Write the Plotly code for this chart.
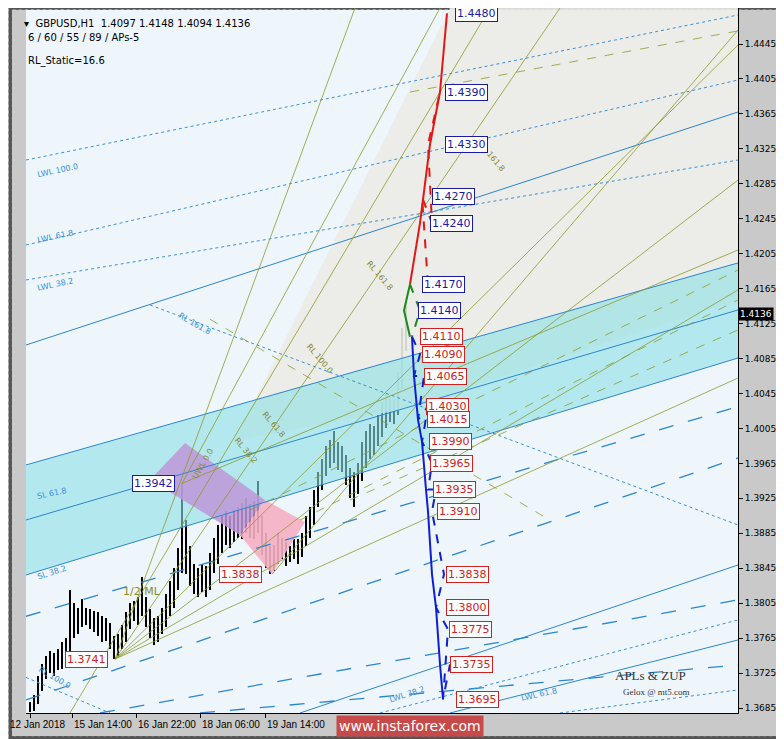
import plotly.graph_objects as go

# --- price bars (bar index 0..94, H1) ---
LOWS = [1.3680, 1.3682, 1.3690, 1.3705, 1.3718, 1.3725, 1.3722, 1.3728, 1.3730, 1.3735,
        1.3748, 1.3765, 1.3770, 1.3778, 1.3780, 1.3775, 1.3772, 1.3768, 1.3760, 1.3762,
        1.3752, 1.3741, 1.3745, 1.3752, 1.3760, 1.3775, 1.3785, 1.3780, 1.3790, 1.3778,
        1.3765, 1.3757, 1.3760, 1.3770, 1.3778, 1.3790, 1.3800, 1.3820, 1.3840, 1.3838,
        1.3825, 1.3815, 1.3812, 1.3818, 1.3812, 1.3820, 1.3840, 1.3850, 1.3862, 1.3872,
        1.3868, 1.3875, 1.3880, 1.3878, 1.3885, 1.3880, 1.3878, 1.3885, 1.3860, 1.3845,
        1.3838, 1.3842, 1.3850, 1.3855, 1.3848, 1.3852, 1.3855, 1.3850, 1.3858, 1.3870,
        1.3880, 1.3895, 1.3915, 1.3935, 1.3950, 1.3960, 1.3965, 1.3958, 1.3955, 1.3940,
        1.3925, 1.3915, 1.3930, 1.3945, 1.3960, 1.3970, 1.3975, 1.3985, 1.3995, 1.4005,
        1.4012, 1.4010, 1.4020, 1.4050, 1.4094]
HIGHS = [1.3692, 1.3700, 1.3722, 1.3735, 1.3745, 1.3750, 1.3748, 1.3752, 1.3760, 1.3765,
         1.3820, 1.3805, 1.3800, 1.3810, 1.3800, 1.3798, 1.3796, 1.3795, 1.3790, 1.3788,
         1.3782, 1.3768, 1.3770, 1.3780, 1.3795, 1.3805, 1.3808, 1.3812, 1.3835, 1.3812,
         1.3798, 1.3788, 1.3790, 1.3800, 1.3815, 1.3830, 1.3845, 1.3868, 1.3942, 1.3900,
         1.3870, 1.3850, 1.3845, 1.3850, 1.3848, 1.3862, 1.3880, 1.3895, 1.3905, 1.3910,
         1.3905, 1.3912, 1.3915, 1.3920, 1.3925, 1.3918, 1.3922, 1.3945, 1.3905, 1.3885,
         1.3870, 1.3872, 1.3885, 1.3880, 1.3875, 1.3870, 1.3878, 1.3878, 1.3885, 1.3905,
         1.3915, 1.3935, 1.3955, 1.3970, 1.3985, 1.3992, 1.4002, 1.3990, 1.3985, 1.3975,
         1.3960, 1.3955, 1.3965, 1.3990, 1.4002, 1.4010, 1.4008, 1.4020, 1.4035, 1.4045,
         1.4040, 1.4038, 1.4070, 1.4120, 1.4148]
LAST_PRICE = 1.4136

X_TICK_POS = [0, 10.5, 26.5, 42.5, 58.75]
X_TICK_TEXT = ["12 Jan 2018", "15 Jan 14:00", "16 Jan 22:00", "18 Jan 06:00", "19 Jan 14:00"]
Y_TICKS = [1.4445, 1.4405, 1.4365, 1.4325, 1.4285, 1.4245, 1.4205, 1.4165, 1.4125,
           1.4085, 1.4045, 1.4005, 1.3965, 1.3925, 1.3885, 1.3845, 1.3805, 1.3765,
           1.3725, 1.3685]
X_RANGE = [-1, 177]
Y_RANGE = [1.36793, 1.44862]

# --- analysis lines, each ((bar, price), (bar, price)) ---
BAND_TOP = [(-1, 1.39632), (177, 1.41944)]
BAND_BOT = [(-1, 1.38373), (177, 1.40856)]
BLUE_SOLID = [[(-1, 1.39002), (177, 1.41406)],
              [(-1, 1.41005), (177, 1.43672)],
              [(67.5, 1.36793), (177, 1.38487)],
              [(105, 1.36793), (177, 1.37629)]]
BLUE_LONGDASH = [[(-1, 1.36942), (177, 1.39712)],
                 [(17.5, 1.36793), (177, 1.38087)],
                 [(42.5, 1.36793), (177, 1.37343)],
                 [(-1, 1.37900), (177, 1.40300)]]
BLUE_DOTTED = [[(-1, 1.43122), (177, 1.44782)],
               [(-1, 1.42150), (177, 1.44038)],
               [(-1, 1.41749), (177, 1.43122)],
               [(30, 1.41463), (177, 1.38945)],
               [(87.5, 1.36793), (177, 1.37858)],
               [(132.5, 1.36793), (177, 1.37057)],
               [(-1, 1.37200), (20, 1.36793)]]
OLIVE_SOLID = [[(21.25, 1.3741), (81.25, 1.44862)],
               [(21.25, 1.3741), (132.5, 1.44862)],
               [(21.25, 1.3741), (177, 1.44439)],
               [(21.25, 1.3741), (177, 1.42893)],
               [(21.25, 1.3741), (177, 1.41635)],
               [(21.25, 1.3741), (177, 1.40627)],
               [(38, 1.3942), (102.5, 1.44862)],
               [(38, 1.3942), (177, 1.42092)],
               [(60.5, 1.3838), (177, 1.4461)],
               [(10, 1.36793), (115, 1.44862)]]
OLIVE_DASH = [[(55, 1.39117), (177, 1.41863)],
              [(67.5, 1.39002), (177, 1.41520)],
              [(80, 1.39231), (177, 1.41177)],
              [(45, 1.41300), (130, 1.39000)],
              [(95, 1.43900), (177, 1.44600)]]
GREY_ZONE = [(51.25, 1.39918), (105, 1.44862), (177, 1.44862), (177, 1.41520), (92.5, 1.40261)]
PURPLE_ZONE = [(38.75, 1.39883), (58.75, 1.39231), (52.5, 1.38831), (30, 1.3946)]
PINK_ZONE = [(58.75, 1.39231), (68.75, 1.38979), (60.5, 1.3838), (52.5, 1.38831)]

# --- projection zigzags ---
RED_SOLID_X = [95, 97.5, 100, 102.5, 104.25]
RED_SOLID_Y = [1.4170, 1.4240, 1.4330, 1.4390, 1.4480]
RED_DASH_X = [99.5, 98, 100.5, 99.5, 102.5]
RED_DASH_Y = [1.4170, 1.4270, 1.4240, 1.4330, 1.4390]
GREEN_SOLID_X = [95, 93.5, 95]
GREEN_SOLID_Y = [1.4170, 1.4140, 1.4110]
GREEN_DASH_X = [95, 97.5, 95.5]
GREEN_DASH_Y = [1.4170, 1.4140, 1.4110]
BLUE_PATH_X = [95.5, 96, 97, 98, 99, 99.5, 100.5, 101.5, 102.5, 103.25]
BLUE_PATH_Y = [1.4110, 1.4065, 1.4015, 1.3990, 1.3935, 1.3910, 1.3838, 1.3800, 1.3735, 1.3695]
BLUE_ZIG_X = [95.5, 97.5, 96, 98.5, 97, 99.5, 98, 100.5, 99.5, 101.5, 100.5, 103.5, 101.5, 104.5, 103.25, 105]
BLUE_ZIG_Y = [1.4110, 1.4090, 1.4065, 1.4065, 1.4015, 1.4030, 1.3990, 1.3965, 1.3935, 1.3935,
              1.3910, 1.3838, 1.3800, 1.3775, 1.3695, 1.3735]

BLUE_LABELS = [1.4480, 1.4390, 1.4330, 1.4270, 1.4240, 1.4170, 1.4140]
BLUE_LABEL_X = [106.25, 103.75, 103.75, 100.5, 100, 98, 97]
RED_LABELS = [1.4110, 1.4090, 1.4065, 1.4030, 1.4015, 1.3990, 1.3965, 1.3935, 1.3910,
              1.3838, 1.3800, 1.3775, 1.3735, 1.3695]
RED_LABEL_X = [97.5, 98, 98.5, 99, 99.25, 99.75, 100, 100.75, 101.75, 104, 104, 104.75, 105, 106.5]
PIVOT_LABELS = [(36.25, 1.3942, "#1a1aa8"), (58, 1.3838, "#d02020"), (19.5, 1.3741, "#d02020")]

LINE_TAGS = [("LWL 100.0", 1, 1.4300, "#3a8fd8", -12), ("LWL 61.8", 1, 1.4225, "#3a8fd8", -12),
             ("LWL 38.2", 1, 1.4170, "#3a8fd8", -12), ("SL 61.8", 1, 1.3930, "#3a8fd8", -12),
             ("SL 38.2", 1, 1.3840, "#3a8fd8", -18), ("RL 100.0", 1, 1.3720, "#3a8fd8", 30),
             ("RL 161.8", 36, 1.4125, "#3a8fd8", 30), ("LWL 38.2", 89, 1.3700, "#3a8fd8", -18),
             ("LWL 61.8", 122, 1.3700, "#3a8fd8", -12), ("RL 161.8", 83, 1.4180, "#8a8a30", 50),
             ("RL 100.0", 68, 1.4085, "#8a8a30", 50), ("RL 61.8", 57, 1.4010, "#8a8a30", 50),
             ("RL 38.2", 50, 1.3980, "#8a8a30", 50), ("UWL 0.0", 39.5, 1.3965, "#8a8a30", -60),
             ("161.8", 113, 1.4310, "#8a8a30", 50)]

fig = go.Figure()


def add_line(seg, color, dash="solid", width=1):
    fig.add_trace(go.Scatter(x=[seg[0][0], seg[1][0]], y=[seg[0][1], seg[1][1]], mode="lines",
                             line=dict(color=color, dash=dash, width=width), hoverinfo="skip"))


def add_poly(pts, fill):
    fig.add_trace(go.Scatter(x=[p[0] for p in pts] + [pts[0][0]], y=[p[1] for p in pts] + [pts[0][1]],
                             mode="lines", fill="toself", fillcolor=fill, line=dict(width=0),
                             hoverinfo="skip"))


add_poly(GREY_ZONE, "rgba(235,235,230,0.9)")
add_poly([BAND_TOP[0], BAND_TOP[1], BAND_BOT[1], BAND_BOT[0]], "rgba(140,225,228,0.6)")
add_poly(PURPLE_ZONE, "rgba(190,150,215,0.85)")
add_poly(PINK_ZONE, "rgba(245,175,195,0.9)")
add_line(BAND_TOP, "#2a86d0")
add_line(BAND_BOT, "#2a86d0")
for s in BLUE_SOLID:
    add_line(s, "#2a86d0")
for s in BLUE_LONGDASH:
    add_line(s, "#2a86d0", "longdash", 1.3)
for s in BLUE_DOTTED:
    add_line(s, "#3a8fd8", "dot")
for s in OLIVE_SOLID:
    add_line(s, "#8c9a2a", width=0.8)
for s in OLIVE_DASH:
    add_line(s, "#8c9a2a", "dash", 0.8)

# horizontal price line and projection verticals
fig.add_hline(y=LAST_PRICE, line=dict(color="#b0b0b0", width=1))
fig.add_vline(x=94.25, line=dict(color="black", width=1, dash="dot"))
fig.add_vline(x=103.75, line=dict(color="black", width=1, dash="dot"))

# bars
fig.add_trace(go.Bar(x=list(range(len(LOWS))), base=LOWS, y=[h - l for h, l in zip(HIGHS, LOWS)],
                     width=0.4, marker=dict(color="black", line=dict(width=0)), hoverinfo="skip"))

fig.add_trace(go.Scatter(x=RED_SOLID_X, y=RED_SOLID_Y, mode="lines", line=dict(color="#e01818", width=2)))
fig.add_trace(go.Scatter(x=RED_DASH_X, y=RED_DASH_Y, mode="lines", line=dict(color="#e01818", width=2, dash="dash")))
fig.add_trace(go.Scatter(x=GREEN_SOLID_X, y=GREEN_SOLID_Y, mode="lines", line=dict(color="#1a8a1a", width=2)))
fig.add_trace(go.Scatter(x=GREEN_DASH_X, y=GREEN_DASH_Y, mode="lines", line=dict(color="#1a8a1a", width=2, dash="dash")))
fig.add_trace(go.Scatter(x=BLUE_PATH_X, y=BLUE_PATH_Y, mode="lines", line=dict(color="#1020d0", width=2)))
fig.add_trace(go.Scatter(x=BLUE_ZIG_X, y=BLUE_ZIG_Y, mode="lines", line=dict(color="#1020d0", width=2, dash="dash")))

for v, x in zip(BLUE_LABELS, BLUE_LABEL_X):
    fig.add_annotation(x=x, y=v, text=f"{v:.4f}", showarrow=False, xanchor="left",
                       font=dict(family="DejaVu Sans", size=11, color="#1a1aa8"),
                       bgcolor="white", bordercolor="#1a1aa8", borderwidth=1, borderpad=1)
for v, x in zip(RED_LABELS, RED_LABEL_X):
    fig.add_annotation(x=x, y=v, text=f"{v:.4f}", showarrow=False, xanchor="left",
                       font=dict(family="DejaVu Sans", size=11, color="#d02020"),
                       bgcolor="white", bordercolor="#d02020", borderwidth=1, borderpad=1)
for x, v, c in PIVOT_LABELS:
    fig.add_annotation(x=x, y=v, text=f"{v:.4f}", showarrow=False, xanchor="right",
                       font=dict(family="DejaVu Sans", size=11, color=c),
                       bgcolor="white", bordercolor=c, borderwidth=1, borderpad=1)
for t, x, y, c, ang in LINE_TAGS:
    fig.add_annotation(x=x, y=y, text=t, showarrow=False, xanchor="left", textangle=ang,
                       font=dict(family="DejaVu Sans", size=8, color=c))
fig.add_annotation(x=28, y=1.3818, text="1/2 ML", showarrow=False,
                   font=dict(family="DejaVu Sans", size=11, color="#8a8a30"))

# last price marker on the axis
fig.add_annotation(xref="paper", x=1.0, y=LAST_PRICE, text=f"{LAST_PRICE:.4f}", showarrow=False,
                   xanchor="left", font=dict(family="DejaVu Sans", size=9, color="white"),
                   bgcolor="black", borderpad=1)

# date labels start at their tick, terminal style
for i, (pos, txt) in enumerate(zip(X_TICK_POS, X_TICK_TEXT)):
    fig.add_annotation(x=pos, yref="paper", y=0, yshift=-4, text=txt, showarrow=False,
                       xanchor="left", yanchor="top", xshift=-22 if i == 0 else 0,
                       font=dict(family="Liberation Sans", size=10, color="black"))

# header texts
for txt, yy in [("▾  GBPUSD,H1  1.4097 1.4148 1.4094 1.4136", 16), ("6 / 60 / 55 / 89 / APs-5", 30),
                ("RL_Static=16.6", 53)]:
    fig.add_annotation(xref="paper", yref="paper", x=0.0 if yy != 16 else -0.005, y=1 - (yy - 8) / 705,
                       text=txt, showarrow=False, xanchor="left",
                       font=dict(family="DejaVu Sans", size=10, color="black"))
fig.add_annotation(xref="paper", yref="paper", x=0.93, y=0.04, text="APLs &amp; ZUP", showarrow=False,
                   font=dict(family="Liberation Serif", size=13, color="#333"))
fig.add_annotation(xref="paper", yref="paper", x=0.935, y=0.02, text="Gelox @ mt5.com", showarrow=False,
                   font=dict(family="Liberation Serif", size=9, color="#333"))
fig.add_annotation(xref="paper", yref="paper", x=0.54, y=-0.003, text="www.instaforex.com",
                   showarrow=False, yanchor="top",
                   font=dict(family="DejaVu Sans", size=14, color="white"),
                   bgcolor="#c74a4a", borderpad=2)

fig.update_xaxes(range=X_RANGE, tickvals=X_TICK_POS, ticktext=[""] * len(X_TICK_POS), ticks="outside",
                 ticklen=4, tickcolor="black", showgrid=False, zeroline=False, showline=True,
                 linecolor="black")
fig.update_yaxes(range=Y_RANGE, side="right", tickvals=Y_TICKS, ticktext=[f"{t:.4f}" for t in Y_TICKS],
                 ticks="outside", ticklen=4, tickcolor="black", showgrid=False, zeroline=False,
                 showline=True, linecolor="black", mirror=False,
                 tickfont=dict(family="DejaVu Sans", size=9, color="black"))
fig.update_layout(width=776, height=731, showlegend=False, bargap=0,
                  margin=dict(l=18, r=46, t=0, b=26),
                  plot_bgcolor="#eef6fc", paper_bgcolor="#c9c9c9",
                  shapes=[dict(type="rect", xref="paper", yref="paper", x0=-0.022, x1=1.06, y0=-0.035, y1=1.0,
                               line=dict(color="#555", width=3), layer="below")])
fig.write_html("out.html")
